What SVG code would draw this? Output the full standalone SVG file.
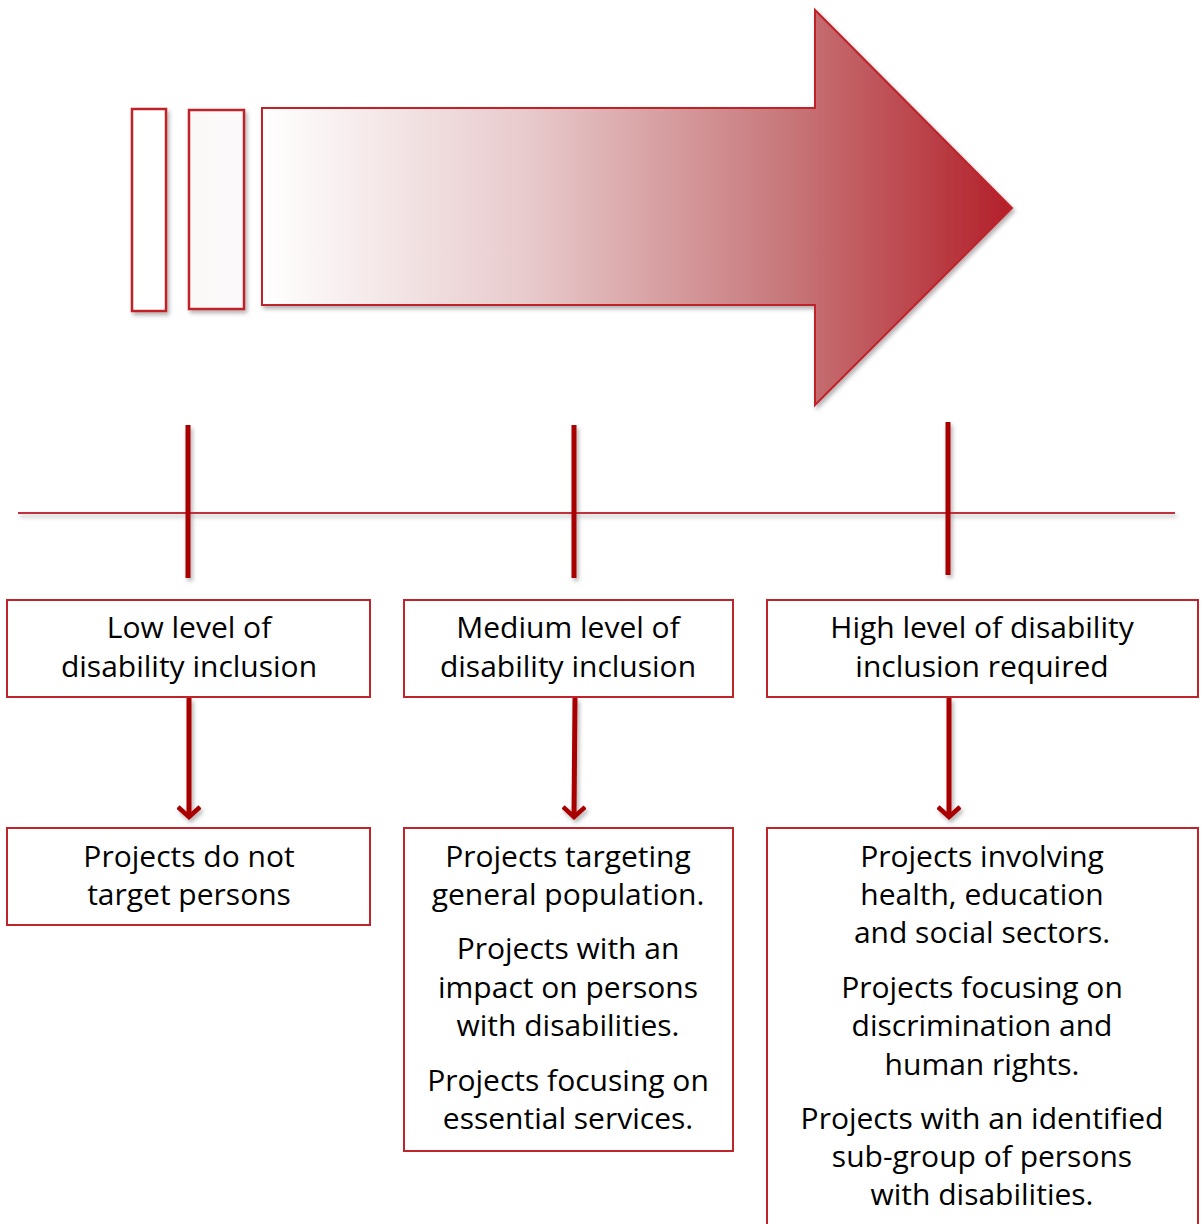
<svg xmlns="http://www.w3.org/2000/svg" width="1202" height="1224" viewBox="0 0 1202 1224">
<style>
.box{fill:#fff;stroke:#C0242B;stroke-width:2}
.t{font-family:"Open Sans","Noto Sans",sans-serif;font-size:30px;fill:#000;text-anchor:middle}
.tick{stroke:#A80000;stroke-width:5;fill:none}
.conn{stroke:#A80000;stroke-width:5;fill:none}
</style>
<defs>
<linearGradient id="g" x1="262" y1="0" x2="1012" y2="0" gradientUnits="userSpaceOnUse">
<stop offset="0" stop-color="#fff"/>
<stop offset="0.35" stop-color="#e8cbcd"/>
<stop offset="0.7" stop-color="#c7777a"/>
<stop offset="1" stop-color="#B3202A"/>
</linearGradient>
<linearGradient id="g2" x1="0" y1="0" x2="1" y2="0">
<stop offset="0" stop-color="#fbf8f8"/>
<stop offset="1" stop-color="#fbf9f9"/>
</linearGradient>
<filter id="sh" filterUnits="userSpaceOnUse" x="0" y="0" width="1202" height="1224">
<feDropShadow dx="2" dy="3" stdDeviation="2" flood-color="#000" flood-opacity="0.3"/>
</filter>
<marker id="ah" viewBox="0 0 16 24" markerWidth="16" markerHeight="24" refX="13" refY="12" orient="auto" markerUnits="userSpaceOnUse">
<polyline points="3,1 13,12 3,23" fill="none" stroke="#A80000" stroke-width="4.5"/>
</marker>
</defs>
<g id="banner" filter="url(#sh)">
<rect x="132" y="109" width="34" height="202" fill="#fff" stroke="#C0242B" stroke-width="2.5"/>
<rect x="189" y="110" width="55" height="199" fill="url(#g2)" stroke="#C0242B" stroke-width="2.5"/>
<path d="M262,108 H815 V10 L1012,208 L815,405 V305 H262 Z" fill="url(#g)" stroke="#C0242B" stroke-width="2"/>
</g>
<g id="connectors" filter="url(#sh)">
<line x1="18" y1="513" x2="1175" y2="513" stroke="#C0303A" stroke-width="2"/>
<line class="tick" x1="188" y1="425" x2="188" y2="578"/>
<line class="tick" x1="574" y1="425" x2="574" y2="578"/>
<line class="tick" x1="948" y1="422" x2="948" y2="575"/>
<path class="conn" d="M189,698 L189,817" marker-end="url(#ah)"/>
<path class="conn" d="M575,698 L574,817" marker-end="url(#ah)"/>
<path class="conn" d="M949,698 L949,817" marker-end="url(#ah)"/>
</g>
<g id="low">
<rect class="box" x="7" y="600" width="363" height="97"/>
<text class="t" x="189" y="638">Low level of</text>
<text class="t" x="189" y="677">disability inclusion</text>
</g>
<g id="medium">
<rect class="box" x="404" y="600" width="329" height="97"/>
<text class="t" x="568" y="638">Medium level of</text>
<text class="t" x="568" y="677">disability inclusion</text>
</g>
<g id="high">
<rect class="box" x="767" y="600" width="431" height="97"/>
<text class="t" x="982" y="638">High level of disability</text>
<text class="t" x="982" y="677">inclusion required</text>
</g>
<g id="low-projects">
<rect class="box" x="7" y="828" width="363" height="97"/>
<text class="t" x="189" y="867">Projects do not</text>
<text class="t" x="189" y="905">target persons</text>
</g>
<g id="medium-projects">
<rect class="box" x="404" y="828" width="329" height="323"/>
<text class="t" x="568" y="867">Projects targeting</text>
<text class="t" x="568" y="905">general population.</text>
<text class="t" x="568" y="959">Projects with an</text>
<text class="t" x="568" y="998">impact on persons</text>
<text class="t" x="568" y="1036">with disabilities.</text>
<text class="t" x="568" y="1091">Projects focusing on</text>
<text class="t" x="568" y="1129">essential services.</text>
</g>
<g id="high-projects">
<rect class="box" x="767" y="828" width="431" height="410"/>
<text class="t" x="982" y="867">Projects involving</text>
<text class="t" x="982" y="905">health, education</text>
<text class="t" x="982" y="943">and social sectors.</text>
<text class="t" x="982" y="998">Projects focusing on</text>
<text class="t" x="982" y="1036">discrimination and</text>
<text class="t" x="982" y="1075">human rights.</text>
<text class="t" x="982" y="1129">Projects with an identified</text>
<text class="t" x="982" y="1167">sub-group of persons</text>
<text class="t" x="982" y="1205">with disabilities.</text>
</g>
</svg>
